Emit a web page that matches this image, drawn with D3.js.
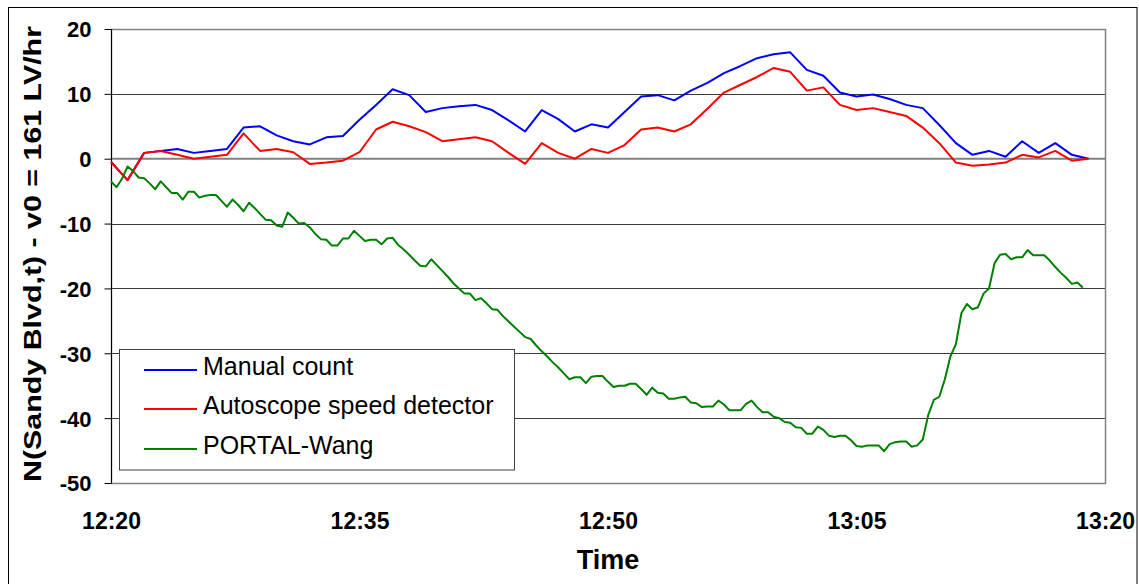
<!DOCTYPE html>
<html>
<head>
<meta charset="utf-8">
<script src="https://cdn.jsdelivr.net/npm/d3@7"></script>
<style>
  html, body { margin: 0; padding: 0; background: #fff; }
  svg { display: block; }
  text { font-family: "Liberation Sans", Arial, sans-serif; }
</style>
</head>
<body>
<svg id="chart" width="1139" height="584"></svg>
<script>
// ---- data ----
const xTickMinutes = [0, 15, 30, 45, 60];
const xTickLabels = ["12:20", "12:35", "12:50", "13:05", "13:20"];
const yTicks = [20, 10, 0, -10, -20, -30, -40, -50];
const seriesNames = ["Manual count", "Autoscope speed detector", "PORTAL-Wang"];
const seriesColors = ["#0000FF", "#FF0000", "#008000"];

// minutes after 12:20, one value per minute
const manualCount = [-0.5, -3.3, 0.9, 1.2, 1.5, 0.9, 1.2, 1.5, 4.8, 5.0,
  3.6, 2.7, 2.2, 3.3, 3.5, 6.0, 8.3, 10.7, 9.8, 7.2,
  7.8, 8.1, 8.3, 7.5, 5.9, 4.2, 7.5, 6.1, 4.2, 5.3,
  4.8, 7.2, 9.6, 9.8, 9.0, 10.5, 11.7, 13.2, 14.3, 15.5,
  16.1, 16.4, 13.7, 12.8, 10.2, 9.6, 9.9, 9.2, 8.3, 7.8,
  5.2, 2.4, 0.6, 1.2, 0.3, 2.7, 0.9, 2.4, 0.6, 0.0];

const autoscope = [-0.5, -3.3, 0.9, 1.2, 0.6, 0.0, 0.3, 0.6, 3.9, 1.2,
  1.5, 1.0, -0.8, -0.6, -0.3, 1.0, 4.5, 5.7, 5.0, 4.1,
  2.7, 3.0, 3.3, 2.7, 0.9, -0.8, 2.4, 0.9, 0.0, 1.5,
  0.9, 2.1, 4.5, 4.8, 4.2, 5.3, 7.7, 10.2, 11.4, 12.6,
  14.0, 13.4, 10.5, 11.0, 8.3, 7.5, 7.8, 7.2, 6.6, 4.8,
  2.4, -0.6, -1.1, -0.9, -0.6, 0.6, 0.2, 1.2, -0.3, 0.0];

// one value every 20 seconds
const portalWang = [-3.5, -4.4, -3.1, -1.2, -1.9, -2.9, -3.0, -3.8, -4.7, -3.5,
  -4.4, -5.3, -5.3, -6.3, -5.1, -5.1, -6.0, -5.7, -5.6, -5.6,
  -6.5, -7.4, -6.3, -7.1, -8.1, -6.8, -7.6, -8.5, -9.4, -9.5,
  -10.3, -10.5, -8.3, -9.1, -10.0, -9.9, -10.6, -11.6, -12.4, -12.5,
  -13.4, -13.4, -12.3, -12.3, -11.1, -11.9, -12.7, -12.5, -12.5, -13.2,
  -12.3, -12.2, -13.3, -14.0, -14.8, -15.7, -16.5, -16.6, -15.5, -16.4,
  -17.3, -18.2, -19.2, -20.0, -20.8, -20.8, -21.8, -21.5, -22.3, -23.2,
  -23.3, -24.3, -25.1, -25.9, -26.7, -27.5, -27.8, -28.8, -29.7, -30.5,
  -31.4, -32.2, -33.1, -34.0, -33.7, -33.7, -34.6, -33.6, -33.5, -33.5,
  -34.4, -35.2, -35.0, -35.0, -34.7, -34.7, -35.5, -36.4, -35.3, -36.1,
  -36.2, -37.0, -37.0, -36.8, -36.7, -37.6, -37.7, -38.3, -38.2, -38.2,
  -37.3, -37.9, -38.8, -38.8, -38.8, -37.8, -37.3, -38.3, -39.1, -39.1,
  -39.8, -40.0, -40.6, -40.7, -41.4, -41.5, -42.4, -42.4, -41.3, -41.8,
  -42.7, -42.9, -42.7, -42.7, -43.4, -44.3, -44.4, -44.2, -44.2, -44.2,
  -45.1, -44.0, -43.7, -43.6, -43.6, -44.4, -44.2, -43.3, -39.5, -37.2,
  -36.7, -34.0, -30.5, -28.6, -23.8, -22.4, -23.2, -22.9, -20.8, -20.0,
  -16.1, -14.8, -14.7, -15.5, -15.2, -15.2, -14.1, -14.9, -14.9, -14.9,
  -15.7, -16.7, -17.6, -18.4, -19.3, -19.1, -19.9];

const yTitle = "N(Sandy Blvd,t) - v0 = 161 LV/hr";
const xTitle = "Time";

// ---- layout ----
const svg = d3.select("#chart");
const L = 111, R = 1105, T = 29, B = 483;

const x = d3.scaleLinear().domain([0, 60]).range([L, R]);
const y = d3.scaleLinear().domain([-50, 20]).range([B, T]);

// outer frame
svg.append("rect").attr("x", 8.5).attr("y", 7.5).attr("width", 1128.5).attr("height", 600)
  .attr("fill", "none").attr("stroke", "#000").attr("stroke-width", 1);

// gridlines
svg.append("g").selectAll("line").data(yTicks.filter(v => v !== 0 && v !== 20 && v !== -50)).join("line")
  .attr("x1", L).attr("x2", R)
  .attr("y1", d => Math.round(y(d)) + 0.5).attr("y2", d => Math.round(y(d)) + 0.5)
  .attr("stroke", "#3a3a3a").attr("stroke-width", 1);

// plot border (gray)
svg.append("rect").attr("x", L + 0.5).attr("y", T + 0.5).attr("width", R - L).attr("height", B - T)
  .attr("fill", "none").attr("stroke", "#808080").attr("stroke-width", 1.5);

// zero line (category axis crossing)
svg.append("line").attr("x1", L).attr("x2", R).attr("y1", y(0)).attr("y2", y(0))
  .attr("stroke", "#808080").attr("stroke-width", 2);

// y axis
const yAxis = d3.axisLeft(y).tickValues(yTicks).tickSize(7).tickPadding(13).tickFormat(d => String(d));
const gy = svg.append("g").attr("transform", `translate(${L + 0.5},0)`).call(yAxis);
gy.select(".domain").attr("stroke", "#000").attr("d", `M0,${T}V${B}`);
gy.selectAll(".tick line").attr("stroke", "#000");
gy.selectAll(".tick text").attr("font-family", "Liberation Sans, Arial, sans-serif")
  .attr("font-size", 22).attr("font-weight", "bold").attr("fill", "#000").attr("dy", "0.36em");

// x axis labels
const xAxis = d3.axisBottom(x).tickValues(xTickMinutes).tickSize(0).tickPadding(0)
  .tickFormat((d, i) => xTickLabels[i]);
const gx = svg.append("g").attr("transform", `translate(0,${B})`).call(xAxis);
gx.select(".domain").remove();
gx.selectAll(".tick text").attr("font-family", "Liberation Sans, Arial, sans-serif")
  .attr("font-size", 23).attr("font-weight", "bold").attr("fill", "#000")
  .attr("dy", null).attr("y", 46);

// axis titles
svg.append("text").attr("x", (L + R) / 2).attr("y", 569).attr("text-anchor", "middle")
  .attr("font-size", 27).attr("font-weight", "bold").text(xTitle);
svg.append("text").attr("transform", "translate(41,254) rotate(-90)").attr("text-anchor", "middle")
  .attr("font-size", 24).attr("font-weight", "bold")
  .attr("textLength", 456).attr("lengthAdjust", "spacingAndGlyphs").text(yTitle);

// series
const lineGen = d3.line().x(d => x(d[0])).y(d => y(d[1]));
const seriesData = [
  manualCount.map((v, i) => [i, v]),
  autoscope.map((v, i) => [i, v]),
  portalWang.map((v, i) => [i / 3, v])
];
svg.append("g").selectAll("path").data(seriesData).join("path")
  .attr("d", lineGen).attr("fill", "none")
  .attr("stroke", (d, i) => seriesColors[i]).attr("stroke-width", 2)
  .attr("stroke-linejoin", "round");

// legend
const lg = svg.append("g");
lg.append("rect").attr("x", 119.5).attr("y", 349.5).attr("width", 395).attr("height", 120.5)
  .attr("fill", "#fff").attr("stroke", "#404040").attr("stroke-width", 1);
const rowY = [370, 409, 449];
seriesNames.forEach((name, i) => {
  lg.append("line").attr("x1", 144).attr("x2", 197).attr("y1", rowY[i]).attr("y2", rowY[i])
    .attr("stroke", seriesColors[i]).attr("stroke-width", 2);
  lg.append("text").attr("x", 203).attr("y", rowY[i] + 5)
    .attr("font-size", 25).attr("fill", "#000").text(name);
});
</script>
</body>
</html>
